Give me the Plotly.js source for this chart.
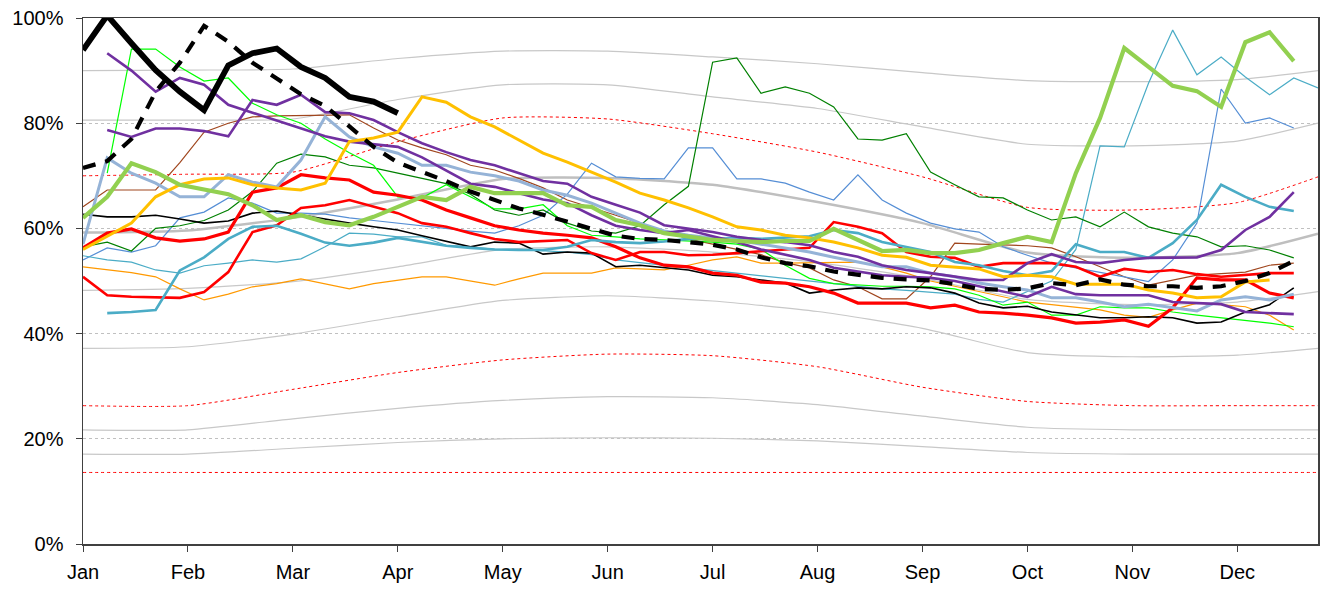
<!DOCTYPE html>
<html>
<head>
<meta charset="utf-8">
<script src="https://cdn.plot.ly/plotly-3.0.1.min.js"></script>
<style>html,body{margin:0;padding:0;background:#fff;}#chart{width:1327px;height:590px;}</style>
</head>
<body>
<div id="chart"></div>
<script>
// ---- tick labels ----
const monthLabels = ['Jan','Feb','Mar','Apr','May','Jun','Jul','Aug','Sep','Oct','Nov','Dec'];
const yTicks = [0, 20, 40, 60, 80, 100];
const yTickLabels = ['0%', '20%', '40%', '60%', '80%', '100%'];
const titleText = '(Occupancy rate, in percent, weekly)';

// ---- monthly reference bands (Jan..Dec + year end) ----
const bandMax   = [90, 90.1, 90.3, 92.3, 93.7, 93.7, 92.6, 91.3, 89.6, 88.1, 87.9, 88.3, 90];
const bandHigh2 = [80.6, 80.6, 80.8, 84.5, 87.3, 87.3, 85, 82.8, 79.3, 76, 75.7, 76.6, 80];
const bandP90   = [70, 70.3, 70.7, 76.5, 81, 80.8, 78, 74.5, 69.8, 64, 63.5, 64.9, 69.8];
const bandMed   = [59.2, 59.6, 62, 65.5, 69.4, 69.6, 68.3, 65, 61, 55.4, 54.4, 55.3, 59];
const bandMid2  = [48.2, 48.6, 49.9, 52.7, 56, 56.5, 55.5, 53.5, 50.5, 46.5, 45.5, 46, 48];
const bandLow1  = [37.2, 37.5, 39.9, 43.2, 46.3, 47.2, 46.2, 44.2, 41, 36.4, 35.6, 35.9, 37.2];
const bandP10   = [26.3, 26.3, 29.4, 32.6, 35, 36.1, 35.8, 33.7, 29.8, 27.1, 26.3, 26.3, 26.3];
const bandLow2  = [21.7, 21.7, 23.8, 25.8, 27.3, 28, 27.8, 26.5, 24.3, 22.2, 21.7, 21.7, 21.7];
const bandLow3  = [17.1, 17.1, 18.2, 19.3, 20, 20.2, 20.1, 19.6, 18.5, 17.4, 17.1, 17.1, 17.1];
const bandMin   = [13.6, 13.6, 13.6, 13.6, 13.6, 13.6, 13.6, 13.6, 13.6, 13.6, 13.6, 13.6, 13.6];

// ---- weekly series (week 1 .. week 52) ----
const blackThick = [93.9, 100.5, 95.2, 90.1, 86, 82.5, 91, 93.3, 94.2, 90.7, 88.6, 85, 84.1, 81.9];
const blackDashed = [71.5, 72.8, 77, 86, 91.5, 98.5, 95.5, 91.5, 88.5, 85.5, 83.3, 79.5, 75.5, 72.5, 70.8, 69, 67, 65.5, 63.8, 62.6, 61.3, 60, 58.6, 58, 57.8, 57.4, 56.9, 56, 54.5, 53.4, 52.8, 51.8, 51.2, 50.6, 50.3, 50.1, 49.4, 48.5, 48.3, 48.6, 49.6, 49.2, 50.3, 49.3, 49, 49, 48.7, 49, 50, 51.5, 53.8];
const lightGreen = [62, 66, 72.4, 70.7, 68.3, 67.3, 66.5, 64.4, 61.6, 62.5, 61.2, 60.6, 62.2, 64.1, 66, 65.4, 67.9, 66.7, 66.7, 66.7, 64.4, 64.1, 61.6, 60.6, 59.1, 58.4, 57.8, 57.6, 57.4, 57.6, 57.6, 59.9, 57.8, 55.7, 55.9, 55.3, 55.3, 55.9, 57.2, 58.4, 57.4, 70.5, 81, 94.3, 90.7, 87.1, 86.1, 83.1, 95.4, 97.3, 91.8];
const gold = [56, 58.5, 61, 66, 68.3, 69.4, 69.6, 68.3, 67.7, 67.3, 68.6, 76.5, 77.2, 78.3, 85, 84, 81.2, 79.3, 76.8, 74.3, 72.6, 70.7, 68.8, 66.7, 65.4, 63.9, 62.2, 60.3, 59.7, 58.7, 58.2, 57.4, 56.3, 54.9, 54.5, 53, 52.7, 52.3, 50.8, 51.1, 50.8, 49.4, 49.4, 49.4, 48.3, 47.7, 46.8, 47, 49.8, 50.2, null];
const purpleA = [null, 78.7, 77.4, 79, 79, 78.5, 77.5, 84.4, 83.5, 85.4, 82.1, 81.9, 80.6, 78.3, 76.2, 74.5, 73, 72, 70.5, 69, 68.5, 66, 64.5, 63, 60.6, 59.9, 59.3, 58.4, 57.8, 57.4, 56.8, 55.5, 54.6, 53, 52.1, 51.5, 50.8, 50.2, 50.2, 53.4, 55.1, 53.6, 53.4, 54, 54.4, 54.5, 54.5, 55.9, 59.7, 62.2, 66.9];
const purpleB = [null, 93.3, 90, 86, 88.6, 87.3, 83.5, 82, 80.5, 79, 77.5, 76.5, 76, 75.5, 73.5, 71, 68.5, 67.9, 66.7, 65.5, 64.8, 62.5, 60.5, 59.7, 59.1, 59.7, 58.5, 57.4, 56, 55, 54, 52.5, 51.8, 51.1, 50.8, 50.6, 50, 49, 48, 47, 48.9, 47.5, 47.3, 47.3, 47.3, 46, 45.8, 45.6, 44.1, 43.9, 43.7];
const steelBlue = [57, 73.4, 70.5, 68.6, 66, 66, 70.2, 68.8, 67.9, 73, 81.2, 77.4, 75.5, 74.3, 72, 72, 70.7, 70, 69, 67.3, 66.3, 64.8, 62.9, 61, 59.5, 58.7, 58.2, 57.8, 57, 56.3, 55.5, 54.5, 53.6, 52.7, 52.7, 51.5, 50.8, 49.6, 48.9, 48.3, 46.8, 46.8, 46, 45.1, 45.6, 44.9, 44.3, 46.4, 47, 46.4, 47.5];
const tealThick = [null, 43.9, 44.1, 44.5, 52, 54.5, 58, 60.3, 60.5, 59, 57.3, 56.7, 57.3, 58.2, 57.5, 56.7, 56.3, 56, 55.9, 55.9, 56.5, 57.8, 57.4, 57.2, 57.5, 58, 58, 58.2, 58, 58.3, 58.5, 59.7, 59.1, 57.4, 56.5, 55.5, 53.6, 53, 51.9, 51.1, 51.9, 57, 55.5, 55.5, 54.4, 57.2, 61.6, 68.3, 66, 64.1, 63.3];
const tealThin = [54.8, 54, 53.6, 52.1, 51.5, 52.9, 53.4, 54, 53.6, 54.2, 56.5, 59.1, 58.9, 58.4, 58.4, 56.8, 56.5, 56, 56, 55.8, 55.5, 55, 54, 53.5, 53, 52.5, 52, 51.5, 51, 50.5, 50, 49.5, 49, 48.5, 48.2, 47.8, 47.5, 46.5, 46, 48, 50, 56, 75.7, 75.5, 87.6, 97.7, 89.2, 92.6, 88.8, 85.4, 88.6, 86.7];
const blueThin = [54, 56.3, 55.5, 56.7, 62, 63.1, 65.8, 64.8, 62.9, 62.9, 62.7, 62, 61.5, 61, 60.5, 59.9, 59.5, 59.1, 60.5, 62.5, 66.5, 72.4, 69.8, 69.5, 69.4, 75.3, 75.3, 69.4, 69.4, 68.6, 66.9, 65.4, 70.2, 65.4, 62.9, 61, 59.9, 59.3, 56.5, 54.9, 53.4, 52.5, 51.7, 50.8, 49.9, 54, 61, 86.5, 80, 81, 79.1];
const darkGreen = [56.5, 57.4, 55.7, 60, 60.5, 61.5, 63.5, 67, 72.4, 74.1, 73.6, 72, 71.5, 70.5, 69.6, 68.5, 66.5, 63.5, 62.5, 63.5, 61, 59.5, 59.1, 60.5, 64.5, 68, 91.6, 92.4, 85.7, 86.9, 85.7, 83.1, 77, 76.8, 78, 70.7, 68.3, 66, 65.8, 63.5, 61.6, 62.2, 60.3, 63.1, 60.3, 59.1, 58.4, 56.5, 56.7, 55.9, 54.4];
const brightGreen = [null, 70.5, 94.1, 94.1, 90.7, 88, 88.6, 83.8, 81.6, 80, 77, 74.4, 72, 66, 65.8, 68.3, 66, 63.7, 63.7, 64.5, 60.5, 58.7, 58.4, 58, 57.8, 57.6, 57.4, 57, 56, 53, 50.5, 49.5, 49.2, 49, 49, 48.9, 48.5, 47.3, 45.4, 46, 43.5, 43.5, 45.1, 44.9, 44.9, 44.1, 43.5, 43, 42.6, 42, 41.3];
const brown = [64.1, 67.3, 67.3, 67.3, 72.5, 78.3, 80, 81.2, 81.4, 81.5, 81.6, 81.6, 79.1, 76.8, 75.3, 74, 72, 71.1, 69.5, 67.7, 65.4, 64, 62.5, 61, 59.5, 58, 57, 56, 55, 53.5, 52.5, 50.2, 48.9, 46.6, 46.6, 50.8, 57.2, 57, 56.8, 56.7, 56.3, 54.6, 52.7, 50.8, 49.2, 50.2, 51.1, 51.4, 51.7, 53, 53.4];
const orangeThin = [52.7, 52.2, 51.6, 50.8, 48.5, 46.4, 47.5, 48.9, 49.5, 50.4, 49.5, 48.5, 49.5, 50.2, 50.8, 50.8, 50, 49.2, 50.4, 51.5, 51.5, 51.5, 52.5, 52.3, 52.1, 53, 54, 54.6, 53.4, 53.4, 53.5, 53.6, 53.6, 52.7, 51.5, 50, 49, 48, 47, 46, 45.5, 45, 44.5, 43.5, 43.1, 44.5, 45.8, 45.5, 45.1, 43.5, 40.7];
const blackThin = [62.7, 62.2, 62.2, 62.5, 61.8, 61, 61.4, 62.9, 63.3, 62.5, 61.8, 61, 60.3, 59.7, 58.6, 57.5, 56.5, 57.4, 57.2, 55.1, 55.5, 55.3, 52.7, 53, 52.5, 52.1, 51.1, 50.8, 50.2, 49.6, 47.7, 48.3, 48.7, 48.5, 48.9, 48.7, 47.7, 45.8, 44.9, 45.2, 44.1, 43.5, 43, 43, 43.2, 43, 42, 42.2, 44.1, 45.5, 48.7];
const redA = [50.8, 47.3, 47, 46.9, 46.8, 47.9, 51.7, 59.3, 60.6, 63.9, 64.4, 65.4, 64.1, 62.9, 61, 60.3, 59.1, 58, 57.4, 57.6, 57.8, 55.3, 54, 55.5, 55.5, 54.9, 55, 55.3, 55.7, 56, 56.3, 61.2, 60.3, 59.1, 55.5, 54.6, 54.4, 52.7, 53.4, 53.4, 53.4, 52.7, 50.8, 52.3, 51.7, 52.1, 51.3, 50.8, 51.1, 51.5, 51.5];
const redB = [56.3, 59.1, 59.9, 58.2, 57.6, 58, 59.3, 66.9, 67.7, 70.2, 69.6, 69.2, 66.9, 66.3, 65.4, 63.5, 62, 60.5, 59.7, 59.1, 58.7, 58.2, 56.5, 54.4, 53, 52.7, 51.5, 51.1, 49.8, 49.6, 48.9, 47.7, 45.8, 45.8, 45.8, 44.9, 45.4, 44.1, 43.9, 43.5, 43, 42, 42.2, 42.6, 41.4, 44.9, 50.6, 50.2, 50.2, 47.7, 46.8];

// ---- build ----
const WEEKS_PER_YEAR = 52;
const monthPos = monthLabels.map((m, i) => i * WEEKS_PER_YEAR / 12);
const bandX = monthPos.concat([51]);
const weekX = n => Array.from({length: n}, (_, i) => i);

function band(y, color, width, dash) {
  return {x: bandX, y: y, type: 'scatter', mode: 'lines', hoverinfo: 'skip',
    line: {color: color, width: width, dash: dash || 'solid', shape: 'spline', smoothing: 0.6}};
}
function weekly(y, color, width, dash) {
  return {x: weekX(y.length), y: y, type: 'scatter', mode: 'lines', connectgaps: false,
    line: {color: color, width: width, dash: dash || 'solid'}};
}

const GRAY = '#C8C8C8';
const traces = [
  band(bandMax, GRAY, 1.2),
  band(bandHigh2, GRAY, 1.2),
  band(bandP90, '#FF0000', 1, 'dot'),
  band(bandMed, '#BFBFBF', 2.5),
  band(bandMid2, GRAY, 1.2),
  band(bandLow1, GRAY, 1.2),
  band(bandP10, '#FF0000', 1, 'dot'),
  band(bandLow2, GRAY, 1.2),
  band(bandLow3, GRAY, 1.2),
  band(bandMin, '#FF0000', 1, 'dot'),
  weekly(brown, '#A0461E', 1.2),
  weekly(orangeThin, '#FF9900', 1.2),
  weekly(blueThin, '#558ED5', 1.2),
  weekly(tealThin, '#4BACC6', 1.2),
  weekly(darkGreen, '#008000', 1.2),
  weekly(brightGreen, '#00FF00', 1.2),
  weekly(blackThin, '#000000', 1.6),
  weekly(redA, '#FF0000', 2.6),
  weekly(redB, '#FF0000', 3.2),
  weekly(tealThick, '#4BACC6', 2.6),
  weekly(steelBlue, '#95B3D7', 3),
  weekly(purpleA, '#7030A0', 2.6),
  weekly(purpleB, '#7030A0', 2.6),
  weekly(gold, '#FFC000', 3),
  weekly(lightGreen, '#92D050', 4.2),
  weekly(blackDashed, '#000000', 4.2, '13px,10px'),
  weekly(blackThick, '#000000', 5.8)
];

const layout = {
  width: 1327, height: 590,
  margin: {l: 83, r: 9, t: 18, b: 46, pad: 0},
  paper_bgcolor: '#ffffff', plot_bgcolor: '#ffffff',
  showlegend: false,
  font: {family: 'Liberation Sans, Arial, sans-serif', color: '#000'},
  annotations: [{
    text: titleText, showarrow: false,
    xref: 'paper', x: (663 - 83) / 1235, xanchor: 'center',
    yref: 'paper', y: 1 + 16 / 526, yanchor: 'bottom',
    font: {family: 'Liberation Sans, Arial, sans-serif', size: 17, color: '#000'}
  }],
  xaxis: {
    range: [0, 51], tickmode: 'array', tickvals: monthPos, ticktext: monthLabels,
    showgrid: false, zeroline: false, showline: true, linecolor: '#404040', linewidth: 1.5, mirror: true,
    ticks: 'outside', ticklen: 6, tickcolor: '#404040', tickwidth: 1,
    tickfont: {size: 20, color: '#000'}, ticklabelstandoff: 3
  },
  yaxis: {
    range: [0, 100], tickmode: 'array', tickvals: yTicks, ticktext: yTickLabels,
    showgrid: true, gridcolor: '#C0C0C0', griddash: 'dot', gridwidth: 1,
    zeroline: false, showline: true, linecolor: '#404040', linewidth: 1.5, mirror: true,
    ticks: 'outside', ticklen: 6, tickcolor: '#404040', tickwidth: 1,
    tickfont: {size: 20, color: '#000'}, ticklabelstandoff: 8
  }
};

Plotly.newPlot('chart', traces, layout, {displayModeBar: false, staticPlot: true});
</script>
</body>
</html>
